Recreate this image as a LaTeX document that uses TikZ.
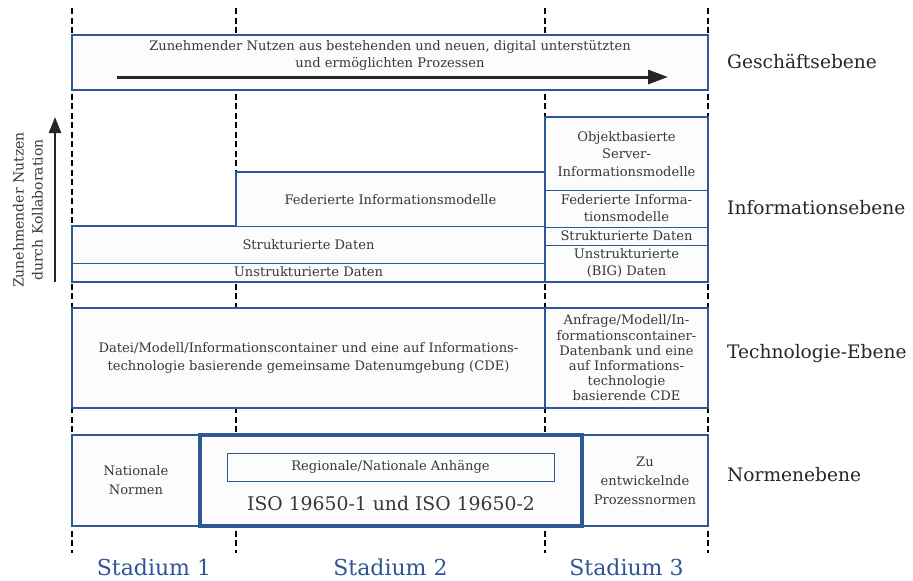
\documentclass[tikz,border=0pt]{standalone}
\usepackage{fontspec}
\setmainfont{DejaVu Serif}
\usetikzlibrary{arrows.meta}

\definecolor{isoblue}{RGB}{46,89,150}
\definecolor{stadblue}{RGB}{47,85,151}
\definecolor{txtgray}{RGB}{56,56,56}
\definecolor{lblgray}{RGB}{38,38,38}
\definecolor{boxfill}{RGB}{252,252,252}

\newcommand{\boxfont}{\fontsize{13.1}{17.5}\selectfont}
\newcommand{\ebenefont}{\fontsize{18.6}{22}\selectfont}
\newcommand{\stadfont}{\fontsize{22}{26}\selectfont}
\newcommand{\isofont}{\fontsize{18.8}{22}\selectfont}

\begin{document}
\begin{tikzpicture} [
    x=1pt, y=-1pt,
    box/.style      = { rectangle, draw=isoblue, line width=2pt, fill=boxfill,
                        inner sep=0pt, text=txtgray, font=\boxfont, align=center },
    thin/.style     = { draw=isoblue, line width=1pt },
    txt/.style      = { text=txtgray, font=\boxfont, align=center, inner sep=0pt },
    ebene/.style    = { text=lblgray, font=\ebenefont, anchor=west, inner sep=0pt },
    stadium/.style  = { text=stadblue, font=\stadfont, inner sep=0pt },
    grid/.style     = { draw=black, line width=2pt, dash pattern=on 6pt off 3.5pt },
    line/.style     = { draw=black!85, line width=3pt,
                        -{Triangle[length=20pt,width=14pt]} },
  ]
  \useasboundingbox (0,0) rectangle (913,581);

  % stage borders
  \foreach \x [count=\i] in {72,236,545,708} {
    \coordinate (top\i) at (\x,8);
    \coordinate (bot\i) at (\x,553);
    \path [grid] (top\i) -- (bot\i);
  }

  % Geschaeftsebene
  \node[box, minimum width=636pt, minimum height=55pt] (biz) at (390,62.5) {};
  \node[txt] (bizT) at (390,55.5)
    {Zunehmender Nutzen aus bestehenden und neuen, digital unterstützten\\
     und ermöglichten Prozessen};
  \coordinate (bizA) at (117,77);
  \coordinate (bizB) at (668,77);

  % Informationsebene
  \path [draw=isoblue, line width=2pt, fill=boxfill]
    (72,282) -- (72,226) -- (236,226) -- (236,172) -- (545,172)
    -- (545,117) -- (708,117) -- (708,282) -- cycle;
  \path [thin] (236,226) -- (545,226);
  \path [thin] (72,263) -- (545,263);
  \path [thin, line width=1.5pt] (545,172) -- (545,282);
  \path [thin] (545,190) -- (708,190);
  \path [thin] (545,227) -- (708,227);
  \path [thin] (545,245) -- (708,245);

  \node[txt] (fedI)   at (390.5,200) {Federierte Informationsmodelle};
  \node[txt] (strD)   at (308.5,245) {Strukturierte Daten};
  \node[txt] (unstrD) at (308.5,272) {Unstrukturierte Daten};
  \node[txt] (objS)   at (626.5,154) {Objektbasierte\\Server-\\Informationsmodelle};
  \node[txt] (fedS)   at (626.5,208) {Federierte Informa-\\tionsmodelle};
  \node[txt] (strS)   at (626.5,236) {Strukturierte Daten};
  \node[txt] (unstrS) at (626.5,263) {Unstrukturierte\\(BIG) Daten};

  \coordinate (kolA) at (55,282);
  \coordinate (kolB) at (55,117);
  \node[txt, rotate=90, font=\fontsize{14}{19}\selectfont] (kolT) at (28,210)
    {Zunehmender Nutzen\\durch Kollaboration};

  % Technologie-Ebene
  \node[box, minimum width=473pt, minimum height=100pt] (techL) at (308.5,358)
    {Datei/Modell/Informationscontainer und eine auf Informations-\\
     technologie basierende gemeinsame Datenumgebung (CDE)};
  \node[box, minimum width=163pt, minimum height=100pt,
        font=\fontsize{13.1}{15.2}\selectfont] (techR) at (626.5,358)
    {Anfrage/Modell/In-\\formationscontainer-\\Datenbank und eine\\
     auf Informations-\\technologie\\basierende CDE};

  % Normenebene
  \node[box, line width=1.5pt, minimum width=128pt, minimum height=91pt,
        font=\fontsize{13.1}{19}\selectfont] (natN) at (136,480.5) {Nationale\\Normen};
  \node[box, line width=1.5pt, minimum width=126pt, minimum height=91pt,
        font=\fontsize{13.1}{19}\selectfont] (prozN) at (645,480.5)
    {Zu\\entwickelnde\\Prozessnormen};
  \node[box, line width=4pt, minimum width=382pt, minimum height=91pt] (iso) at (391,480.5) {};
  \node[box, line width=1pt, minimum width=327pt, minimum height=28pt] (anh) at (390.5,467)
    {Regionale/Nationale Anhänge};
  \node[txt, font=\isofont] (isoT) at (391,503) {ISO 19650-1 und ISO 19650-2};

  % Ebenen
  \node[ebene] (gesE)  at (727,62)  {Geschäftsebene};
  \node[ebene] (infE)  at (727,208) {Informationsebene};
  \node[ebene] (techE) at (727,353) {Technologie-Ebene};
  \node[ebene] (normE) at (727,475) {Normenebene};

  % Stadien
  \node[stadium] (st1) at (154,567)   {Stadium 1};
  \node[stadium] (st2) at (390.5,567) {Stadium 2};
  \node[stadium] (st3) at (626.5,567) {Stadium 3};

  % connect the nodes
  \path [line] (bizA) -- (bizB);
  \path [line, line width=2.5pt, -{Triangle[length=16pt,width=12pt]}] (kolA) -- (kolB);
\end{tikzpicture}
\end{document}
